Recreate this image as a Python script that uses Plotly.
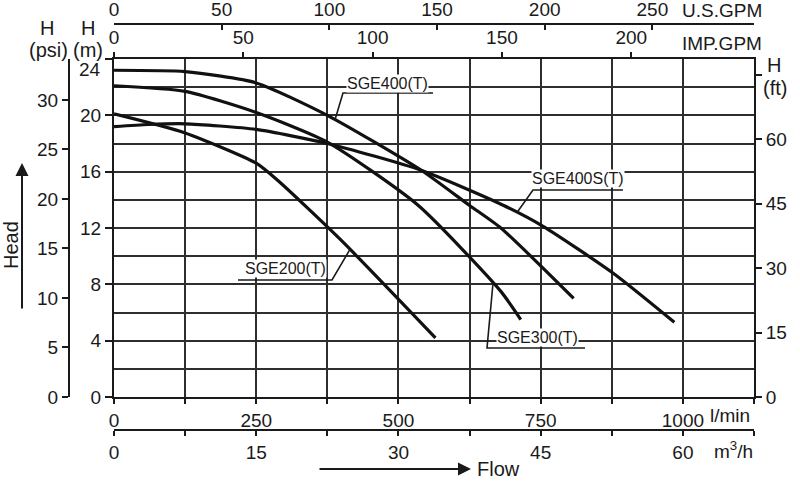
"""
Curvas de bomba SGE: altura manométrica x vazão, com escalas auxiliares.
"""

import numpy as np
import plotly.graph_objects as go

# vazão (l/min) e altura (m)
sge400_q = [0, 125, 250, 375, 540, 625, 680, 808]
sge400_h = [23.2, 23.1, 22.3, 20.0, 16.1, 13.6, 12.0, 7.0]

sge300_q = [0, 125, 250, 375, 535, 680, 715]
sge300_h = [22.1, 21.7, 20.2, 18.1, 13.6, 7.5, 5.5]

sge400s_q = [0, 60, 125, 250, 375, 540, 685, 755, 877, 985]
sge400s_h = [19.2, 19.35, 19.4, 19.0, 18.0, 16.1, 13.6, 12.1, 8.8, 5.3]

sge200_q = [0, 125, 250, 290, 400, 565]
sge200_h = [20.1, 18.75, 16.6, 15.3, 11.1, 4.2]

nomes = ['SGE400(T)', 'SGE300(T)', 'SGE400S(T)', 'SGE200(T)']

# fatores de conversão
LPM_POR_USGPM = 3.78541
LPM_POR_IMPGPM = 4.54609
M3H_POR_LPM = 0.06
M_POR_PSI = 0.70307
M_POR_FT = 0.3048

Q_MAX = 1125
H_MAX = 24

# geometria da página (px)
W, H = 800, 489
ML, MR, MT, MB = 20, 46, 5, 40
PW, PH = W - ML - MR, H - MT - MB


def px(x):
    return (x - ML) / PW


def py(y):
    return (H - MB - y) / PH


INK = '#1a1a1a'
GRID = '#2e2e2e'
FONT = 'Liberation Sans, Arial, sans-serif'
X_DOM = [px(114), px(754)]
Y_DOM = [py(397), py(59)]

eixo = dict(showline=True, linecolor=INK, linewidth=2, tickcolor=INK, tickwidth=2,
            tickfont=dict(size=19, color=INK, family=FONT), zeroline=False,
            showgrid=False, automargin=False)

fig = go.Figure()

curvas = [(sge400_q, sge400_h), (sge300_q, sge300_h),
          (sge400s_q, sge400s_h), (sge200_q, sge200_h)]
for nome, (q, h) in zip(nomes, curvas):
    fig.add_trace(go.Scatter(
        x=q, y=h, name=nome, mode='lines',
        line=dict(color='#111111', width=3.2, shape='spline', smoothing=0.6),
        showlegend=False, hoverinfo='skip'
    ))

# traços vazios só para ativar os eixos auxiliares
for xa, ya in [('x2', 'y'), ('x3', 'y'), ('x4', 'y'), ('x', 'y2'), ('x', 'y3')]:
    fig.add_trace(go.Scatter(x=[], y=[], xaxis=xa, yaxis=ya,
                             showlegend=False, hoverinfo='skip'))

fig.update_layout(
    width=W, height=H,
    margin=dict(l=ML, r=MR, t=MT, b=MB),
    plot_bgcolor='white', paper_bgcolor='white',
    font=dict(family=FONT, color=INK),
    xaxis=dict(eixo, domain=X_DOM, range=[0, Q_MAX], anchor='y',
               tickmode='linear', tick0=0, dtick=250,
               ticks='outside', ticklen=5, mirror=True,
               showgrid=True, gridcolor=GRID, gridwidth=2,
               minor=dict(tickmode='linear', tick0=0, dtick=125, showgrid=True,
                          gridcolor=GRID, gridwidth=2, ticks='outside',
                          ticklen=5, tickcolor=INK, tickwidth=2)),
    yaxis=dict(eixo, domain=Y_DOM, range=[0, H_MAX], anchor='x',
               tickmode='array', tickvals=[0, 4, 8, 12, 16, 20, 24],
               ticktext=['0', '4', '8', '12', '16', '20', ''],
               ticks='outside', ticklen=7, mirror=True,
               showgrid=True, gridcolor=GRID, gridwidth=2,
               minor=dict(tickmode='linear', tick0=0, dtick=2, showgrid=True,
                          gridcolor=GRID, gridwidth=2, ticks='')),
    xaxis2=dict(eixo, overlaying='x', side='top', anchor='free',
                position=py(24), range=[0, Q_MAX / LPM_POR_USGPM],
                tickmode='linear', tick0=0, dtick=50,
                ticks='inside', ticklen=5, ticklabelstandoff=-1),
    xaxis3=dict(eixo, overlaying='x', side='top', anchor='y',
                range=[0, Q_MAX / LPM_POR_IMPGPM],
                tickmode='linear', tick0=0, dtick=50,
                ticks='outside', ticklen=5),
    xaxis4=dict(eixo, overlaying='x', side='bottom', anchor='free',
                position=py(430), range=[0, Q_MAX * M3H_POR_LPM],
                tickmode='linear', tick0=0, dtick=15,
                ticks='outside', ticklen=5,
                minor=dict(tickmode='linear', tick0=0, dtick=7.5,
                           ticks='outside', ticklen=5, tickcolor=INK,
                           tickwidth=2)),
    yaxis2=dict(eixo, overlaying='y', side='right', anchor='x',
                range=[0, H_MAX / M_POR_FT],
                tickmode='array', tickvals=[0, 15, 30, 45, 60, 75],
                ticktext=['0', '15', '30', '45', '60', ''],
                ticks='outside', ticklen=6),
    yaxis3=dict(eixo, overlaying='y', side='left', anchor='free',
                position=px(69), range=[0, H_MAX / M_POR_PSI],
                tickmode='linear', tick0=0, dtick=5,
                ticks='outside', ticklen=6),
)

# rótulos das curvas: (centro do texto, sublinhado, ponto na curva, lado do traço)
rotulos = [
    (481.6, 22.25, 402.5, 560.7, 21.59, 388.5, 'esq'),
    (745.3, 4.22, 655.7, 828.0, 3.48, 666.2, 'esq'),
    (815.6, 15.48, 736.5, 894.7, 14.70, 708.4, 'esq'),
    (300.6, 9.09, 218.0, 383.2, 8.31, 414.8, 'dir'),
]
for nome, (q, h), (tx, ty, u0, u1, uy, cq, lado) in zip(nomes, curvas, rotulos):
    ch = float(np.interp(cq, q, h))
    if lado == 'esq':
        path = f'M {cq},{ch} L {u0},{uy} L {u1},{uy}'
    else:
        path = f'M {u0},{uy} L {u1},{uy} L {cq},{ch}'
    fig.add_shape(type='path', path=path, xref='x', yref='y',
                  line=dict(color=INK, width=1.6), layer='above')
    fig.add_annotation(x=tx, y=ty, xref='x', yref='y', text=nome,
                       showarrow=False, bgcolor='white', borderpad=0,
                       font=dict(size=16, color=INK, family=FONT))


def texto(x, y, s, size=20, xanchor='center', angle=0):
    fig.add_annotation(x=px(x), y=py(y), xref='paper', yref='paper', text=s,
                       showarrow=False, xanchor=xanchor, yanchor='middle',
                       textangle=angle, font=dict(size=size, color=INK, family=FONT))


texto(47, 28, 'H')
texto(48, 50, '(psi)')
texto(88, 28, 'H')
texto(88, 50, '(m)')
texto(103, 70, '24', size=19, xanchor='right')
texto(774, 65, 'H')
texto(775, 88, '(ft)')
texto(680, 11, 'U.S.GPM', size=19, xanchor='left')
texto(680, 43, 'IMP.GPM', size=19, xanchor='left')
texto(708, 415, 'l/min', size=19, xanchor='left')
texto(712, 450, 'm<sup>3</sup>/h', size=19, xanchor='left')
texto(475, 469, 'Flow', size=20, xanchor='left')
texto(11, 245, 'Head', size=20, angle=-90)

# setas de "Head" e "Flow"
fig.add_annotation(x=px(22), y=py(163), xref='paper', yref='paper', text='',
                   showarrow=True, ax=0, ay=147, arrowhead=2, arrowsize=1.3,
                   arrowwidth=2, arrowcolor=INK)
fig.add_annotation(x=px(471), y=py(469), xref='paper', yref='paper', text='',
                   showarrow=True, ax=-153, ay=0, arrowhead=2, arrowsize=1.3,
                   arrowwidth=2, arrowcolor=INK)

fig.write_html('out.html', config={'displayModeBar': False},
               post_script="document.body.style.margin='0';")
